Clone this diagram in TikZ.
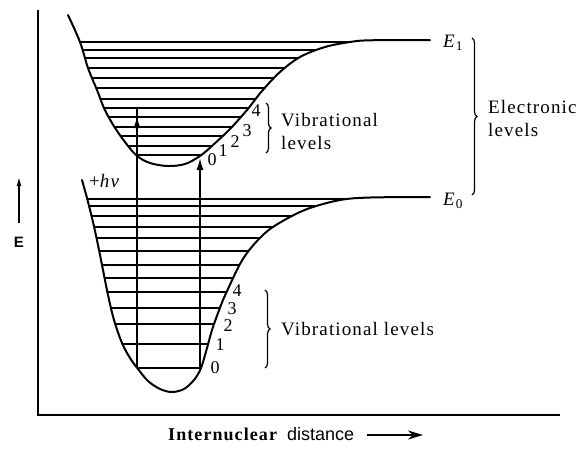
\documentclass[tikz,border=0pt]{standalone}
\usepackage{fontspec}
\setmainfont{Liberation Serif}
\newfontfamily\labfont[LetterSpace=6]{Liberation Serif}
\newfontfamily\sanslab{Liberation Sans}
\usetikzlibrary{arrows.meta,decorations.pathreplacing}
\tikzset{
  curve/.style={line width=2pt, line join=round, line cap=round},
  level/.style={line width=1.6pt},
  axis/.style={line width=2.6pt},
  lbl/.style={font=\labfont\fontsize{19}{23}\selectfont, inner sep=0pt},
  num/.style={font=\labfont\fontsize{18}{18}\selectfont, inner sep=0pt},
  vbrace/.style={decorate, decoration={brace, amplitude=5pt}, line width=1.2pt},
  tipup/.style={-{Latex[length=12pt,width=7pt]}, line width=1.6pt},
}
\newcommand\UpCurve{plot[smooth,tension=0.55] coordinates {(68,15) (80,42) (88,68) (97,90) (104,108) (112,123) (122,138) (136,155) (150,163) (168,166) (185,164) (200,156) (213,145) (230,129) (247,110) (262,91) (280,72) (300,57) (325,47) (350,42) (370,40.3) (430,40)}}
\newcommand\LowCurve{plot[smooth,tension=0.55] coordinates {(82,180) (87,198) (93,222) (98,245) (103,270) (108,295) (114,320) (122,343) (130,358) (138,369) (148,381) (160,389) (172,392) (184,389) (194,380) (201,368) (207,348) (212,330) (218,313) (223,300) (228,289) (234,276) (240,264) (247,253) (257,241) (270,229) (290,217) (310,208) (340,200) (370,197.5) (430,197)}}
\begin{document}
\begin{tikzpicture}[x=1pt,y=-1pt]
\useasboundingbox (0,0) rectangle (581,451);
% axes
\coordinate (origin) at (38,415);
\coordinate (ytop) at (38,10);
\coordinate (xend) at (560,415);
\draw[axis] (ytop) -- (origin) -- (xend);
% upper well levels
\begin{scope}
  \clip \UpCurve -- cycle;
  \foreach \yy in {42,50,58,68,78,88,99,108,117,127,136,146,155}
    \draw[level] (40,\yy) -- (440,\yy);
\end{scope}
% lower well levels
\begin{scope}
  \clip \LowCurve -- cycle;
  \foreach \yy in {199,206,216,227,238,251,265,278,292,308,324,344,368}
    \draw[level] (40,\yy) -- (440,\yy);
\end{scope}
% curves
\draw[curve] \UpCurve;
\draw[curve] \LowCurve;
% transitions
\coordinate (a0) at (137,368);
\coordinate (a1) at (137,108);
\coordinate (a1tail) at (137,134);
\coordinate (a1tip) at (137,116);
\coordinate (b0) at (200,368);
\coordinate (b1) at (200,158);
\draw[level] (a0) -- (a1);
\draw[tipup] (a1tail) -- (a1tip);
\draw[tipup] (b0) -- (b1);
% labels
\node[lbl, anchor=west] (hnu) at (89,181) {+\textit{hν}};
\node[lbl, anchor=west] (E1) at (443,43) {\textit{E}\textsubscript{1}};
\node[lbl, anchor=west] (E0) at (443,201) {\textit{E}\textsubscript{0}};
% upper vibrational numbers
\node[num] (u0) at (212,160) {0};
\node[num] (u1) at (223,151) {1};
\node[num] (u2) at (235,142) {2};
\node[num] (u3) at (247,131) {3};
\node[num] (u4) at (256,111) {4};
% lower vibrational numbers
\node[num] (l0) at (215,368) {0};
\node[num] (l1) at (220,345) {1};
\node[num] (l2) at (228,326) {2};
\node[num] (l3) at (232,309) {3};
\node[num] (l4) at (237,291) {4};
% braces
\coordinate (ub1) at (266,103);
\coordinate (ub2) at (266,153);
\draw[vbrace] (ub1) -- (ub2);
\node[lbl, anchor=west, align=left] (uvib) at (281,131) {Vibrational\\levels};
\coordinate (lb1) at (265,290);
\coordinate (lb2) at (265,368);
\draw[vbrace] (lb1) -- (lb2);
\node[lbl, anchor=west] (lvib) at (281,329) {Vibrational levels};
\coordinate (eb1) at (472,38);
\coordinate (eb2) at (472,195);
\draw[vbrace] (eb1) -- (eb2);
\node[lbl, anchor=west, align=left] (elec) at (488,118) {Electronic\\levels};
% energy axis label
\coordinate (ea0) at (19,223);
\coordinate (ea1) at (19,177);
\draw[-{Latex[length=9pt,width=5pt]}, line width=1.4pt] (ea0) -- (ea1);
\node[font=\sanslab\bfseries\fontsize{15}{16}\selectfont, inner sep=0pt] (Elab) at (19,242) {E};
% x axis label
\node[inner sep=0pt, anchor=west] (xlab) at (168,434) {{\labfont\bfseries\fontsize{18}{18}\selectfont Internuclear}\hspace{10pt}{\sanslab\fontsize{18}{18}\selectfont distance}};
\coordinate (xa0) at (367,435);
\coordinate (xa1) at (423,435);
\draw[-{Stealth[length=15pt,width=9pt]}, line width=1.6pt] (xa0) -- (xa1);
\end{tikzpicture}
\end{document}
